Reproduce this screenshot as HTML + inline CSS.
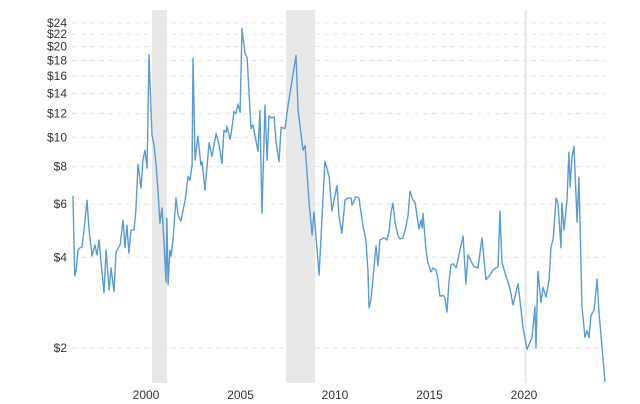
<!DOCTYPE html>
<html><head><meta charset="utf-8"><style>
html,body{margin:0;padding:0;background:#fff;}
svg{display:block;font-family:"Liberation Sans",Arial,sans-serif;}
</style></head><body>
<svg id="chart" width="640" height="404" viewBox="0 0 640 404" xmlns="http://www.w3.org/2000/svg">
<g id="bands"></g>
<g id="grid"></g>
<g id="ylabels"></g>
<g id="xlabels"></g>
<g id="series"></g>
</svg>
<script>
const years = [1996.19,1996.28,1996.35,1996.46,1996.56,1996.67,1996.77,1996.93,1997.04,1997.20,1997.35,1997.46,1997.57,1997.67,1997.83,1997.94,1998.10,1998.20,1998.36,1998.47,1998.68,1998.84,1998.94,1999.05,1999.15,1999.26,1999.42,1999.52,1999.63,1999.79,1999.89,2000.0,2000.11,2000.21,2000.37,2000.48,2000.58,2000.69,2000.79,2000.90,2001.01,2001.11,2001.16,2001.22,2001.32,2001.38,2001.48,2001.64,2001.75,2001.90,2002.12,2002.28,2002.38,2002.49,2002.54,2002.65,2002.80,2002.96,2003.02,2003.17,2003.39,2003.54,2003.76,2003.86,2003.97,2004.07,2004.18,2004.29,2004.34,2004.50,2004.60,2004.71,2004.81,2004.92,2005.03,2005.13,2005.29,2005.40,2005.61,2005.71,2005.87,2005.98,2006.08,2006.19,2006.35,2006.46,2006.56,2006.67,2006.83,2006.93,2007.09,2007.20,2007.41,2007.57,2007.99,2008.10,2008.36,2008.47,2008.68,2008.84,2008.94,2009.21,2009.52,2009.74,2009.89,2010.16,2010.26,2010.42,2010.58,2010.74,2010.90,2010.95,2011.16,2011.32,2011.53,2011.69,2011.80,2011.85,2011.96,2012.22,2012.33,2012.43,2012.65,2012.80,2012.91,2013.02,2013.12,2013.23,2013.39,2013.49,2013.65,2013.76,2013.92,2014.02,2014.18,2014.29,2014.39,2014.50,2014.60,2014.66,2014.71,2014.87,2014.97,2015.13,2015.24,2015.40,2015.50,2015.61,2015.77,2015.87,2015.98,2016.08,2016.19,2016.30,2016.46,2016.83,2016.98,2017.09,2017.41,2017.62,2017.83,2018.04,2018.25,2018.41,2018.68,2018.78,2018.89,2019.05,2019.31,2019.47,2019.74,2020.0,2020.21,2020.48,2020.63,2020.69,2020.79,2020.95,2021.06,2021.22,2021.38,2021.48,2021.59,2021.75,2021.85,2022.01,2022.06,2022.17,2022.33,2022.43,2022.49,2022.59,2022.70,2022.86,2022.96,2023.12,2023.28,2023.39,2023.49,2023.60,2023.76,2023.92,2024.02,2024.34];
const prices = [6.38,3.47,3.58,4.23,4.30,4.33,4.92,6.19,4.92,4.04,4.40,4.07,4.57,3.86,3.05,4.23,3.11,3.69,3.08,4.17,4.40,5.31,4.30,5.11,4.13,4.92,4.92,5.74,8.15,6.79,8.40,9.07,7.9,18.8,10.15,9.4,8.15,6.68,5.19,5.83,4.40,3.31,5.39,3.24,4.23,4.04,4.57,6.3,5.52,5.27,6.19,7.43,7.21,8.1,18.3,8.4,10.1,8.1,8.3,6.68,9.6,8.65,10.3,9.78,9.07,8.2,10.56,10.4,10.9,9.85,10.7,12.2,12.0,12.9,12.1,23.0,19.0,18.4,10.7,11.0,9.78,9.0,12.3,5.6,12.8,8.4,11.8,11.6,11.7,9.7,8.3,10.8,10.7,12.8,18.7,12.3,9.07,9.4,6.07,4.74,5.65,3.49,8.33,7.43,5.7,6.93,5.52,4.8,6.19,6.3,6.3,5.96,6.35,6.3,5.11,4.57,3.58,2.72,2.89,4.36,3.75,4.57,4.64,4.57,4.85,5.66,6.05,5.23,4.7,4.6,4.64,4.92,5.52,6.63,6.19,6.07,5.48,4.96,5.31,5.0,5.6,4.23,3.84,3.58,3.69,3.63,3.39,2.97,2.99,2.94,2.63,3.31,3.78,3.81,3.69,4.71,3.26,4.07,3.72,3.69,4.64,3.37,3.49,3.63,3.72,5.69,3.84,3.55,3.15,2.78,3.27,2.34,1.98,2.17,2.74,2.0,3.6,2.83,3.18,2.95,3.37,4.33,4.57,6.3,6.05,4.30,6.07,4.92,6.19,8.93,6.84,8.6,9.34,5.23,7.37,2.74,2.17,2.29,2.16,2.57,2.67,3.39,2.63,1.54];
const yTicks = [2,4,6,8,10,12,14,16,18,20,22,24];
const xTicks = [2000,2005,2010,2015,2020];
const recessionStarts = [2000.37,2007.46,2020.08];
const recessionEnds = [2001.16,2009.0,2020.2];

const NS = "http://www.w3.org/2000/svg";
const X0 = 72, X1 = 606, TOP = 10, BOTTOM = 383;
function xScale(yr){ return 145 + (yr - 2000) * 18.9; }
function yScale(v){ return 348 - 90.7 * Math.log2(v / 2); }
function mk(tag, attrs, parent){
  const e = document.createElementNS(NS, tag);
  for (const k in attrs) e.setAttribute(k, attrs[k]);
  parent.appendChild(e); return e;
}
const bands = document.getElementById('bands');
recessionStarts.forEach((s, i) => {
  const r = mk('rect', {x: xScale(s), y: TOP, width: xScale(recessionEnds[i]) - xScale(s), height: BOTTOM - TOP, fill: '#e8e8e8'}, bands);
  
  
});
const grid = document.getElementById('grid');
const yl = document.getElementById('ylabels');
yTicks.forEach(t => {
  const y = yScale(t);
  const l = mk('line', {x1: X0, x2: X1, y1: y, y2: y, stroke: '#e2e2e2', 'stroke-width': 1, 'stroke-dasharray': '5,4'}, grid);
  
  
  const tx = mk('text', {x: 67, y: y + 4, 'text-anchor': 'end', 'font-size': 12, fill: '#333'}, yl);
  tx.textContent = '$' + t;
  
  
});
const xl = document.getElementById('xlabels');
xTicks.forEach(t => {
  const tx = mk('text', {x: xScale(t) + 1, y: 399, 'text-anchor': 'middle', 'font-size': 12, fill: '#333'}, xl);
  tx.textContent = t;
  
  
});
const d = years.map((yr, i) => (i ? 'L' : 'M') + xScale(yr).toFixed(1) + ',' + yScale(prices[i]).toFixed(1)).join(' ');
const p = mk('path', {d: d, fill: 'none', stroke: '#5b9bd5', 'stroke-width': 1.4, 'stroke-linejoin': 'round'}, document.getElementById('series'));


</script>
</body></html>
